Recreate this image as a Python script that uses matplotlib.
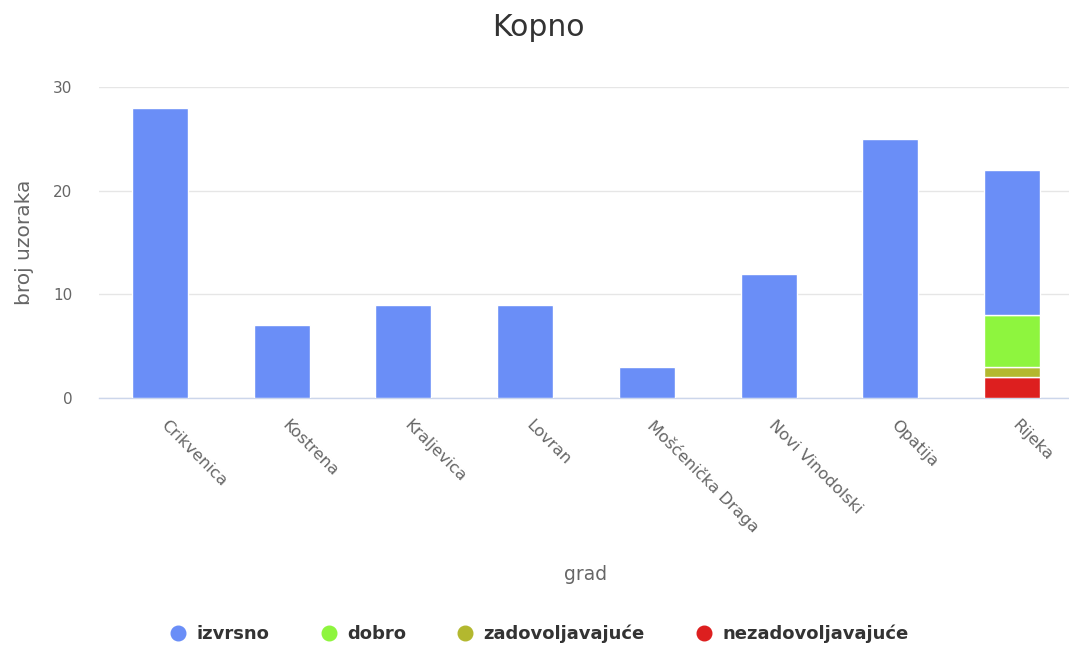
import matplotlib
matplotlib.use("Agg")
import matplotlib.pyplot as plt
from matplotlib.lines import Line2D
from matplotlib.transforms import ScaledTranslation
import numpy as np

plt.rcParams['font.family'] = ['DejaVu Sans']

categories = ["Crikvenica", "Kostrena", "Kraljevica", "Lovran", "Mošćenička Draga",
              "Novi Vinodolski", "Opatija", "Rijeka"]
series_names = ["izvrsno", "dobro", "zadovoljavajuće", "nezadovoljavajuće"]
izvrsno = [28, 7, 9, 9, 3, 12, 25, 14]
dobro = [0, 0, 0, 0, 0, 0, 0, 5]
zadovoljavajuce = [0, 0, 0, 0, 0, 0, 0, 1]
nezadovoljavajuce = [0, 0, 0, 0, 0, 0, 0, 2]
colors = ["#6a8ef7", "#8ef53e", "#b3b82f", "#dd1f1f"]

W, H = 1069, 650
fig = plt.figure(figsize=(W / 100, H / 100), dpi=100)
ax = fig.add_axes([99 / W, 1 - 398 / H, 974 / W, (398 - 87) / H])

x = np.arange(len(categories))
stack = [(nezadovoljavajuce, colors[3]), (zadovoljavajuce, colors[2]),
         (dobro, colors[1]), (izvrsno, colors[0])]
bottom = np.zeros(len(categories))
for vals, col in stack:
    v = np.array(vals, dtype=float)
    ax.bar(x, v, width=0.46, bottom=bottom, color=col, edgecolor="white",
           linewidth=1.0, zorder=3)
    bottom += v

ax.set_xlim(-0.5, len(categories) - 0.5)
ax.set_ylim(0, 30)
ax.set_yticks([0, 10, 20, 30])
ax.yaxis.grid(True, color="#e6e6e6", linewidth=1, zorder=0)
for s in ["left", "right", "top"]:
    ax.spines[s].set_visible(False)
ax.spines["bottom"].set_color("#ccd6eb")
ax.spines["bottom"].set_linewidth(1)
ax.tick_params(axis="y", length=0, labelsize=11, labelcolor="#666666", pad=19)
ax.tick_params(axis="x", length=0, labelsize=11.8, labelcolor="#666666", pad=14)
ax.set_xticks(x)
ax.set_xticklabels(categories, rotation=-45, ha="left", va="top",
                   rotation_mode="anchor")
off = ScaledTranslation(6 / 72, 0, fig.dpi_scale_trans)
for lab in ax.get_xticklabels():
    lab.set_transform(lab.get_transform() + off)

ax.set_ylabel("broj uzoraka", fontsize=14.5, color="#666666", labelpad=14)
fig.text(586 / W, 1 - 575 / H, "grad", fontsize=13.5, color="#666666",
         ha="center", va="center")
fig.text(538 / W, 1 - 28 / H, "Kopno", fontsize=21.5, color="#333333",
         ha="center", va="center")

handles = [Line2D([0], [0], marker="o", linestyle="none", markersize=10.5,
                  markerfacecolor=c, markeredgecolor=c) for c in colors]
leg = fig.legend(handles, series_names, loc="center", bbox_to_anchor=(538 / W, 1 - 634 / H),
                 ncol=4, frameon=False, handletextpad=0.4, columnspacing=2.7,
                 handlelength=1.2, prop={"size": 13, "weight": "semibold"})
for t in leg.get_texts():
    t.set_color("#333333")

fig.savefig("out.png", dpi=100)
